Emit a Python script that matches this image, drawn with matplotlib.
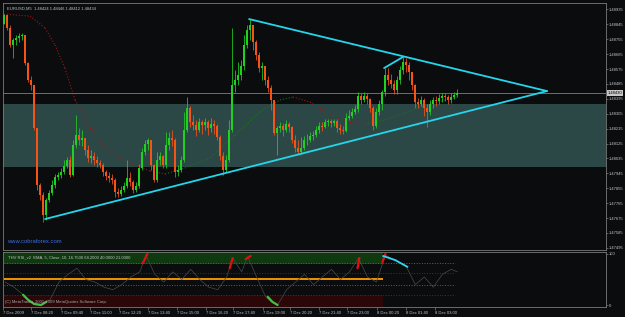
import matplotlib
matplotlib.use("Agg")
import matplotlib.pyplot as plt
from matplotlib.transforms import blended_transform_factory
import numpy as np

plt.rcParams["font.family"] = ["Liberation Sans", "DejaVu Sans"]

# EURUSD M5 candles, open of each candle = previous close
first_open = 1.48847
closes = [1.48901, 1.48823, 1.48720, 1.48750, 1.48762, 1.48775, 1.48781, 1.48611, 1.48509, 1.48479,
          1.48219, 1.47875, 1.47814, 1.47693, 1.47784, 1.47826, 1.47875, 1.47923, 1.47935, 1.47953,
          1.47989, 1.48026, 1.47935, 1.48116, 1.48177, 1.48146, 1.48158, 1.48086, 1.48038, 1.48050,
          1.48026, 1.48007, 1.47995, 1.47953, 1.47929, 1.47917, 1.47905, 1.47832, 1.47820, 1.47844,
          1.47869, 1.47917, 1.47893, 1.47844, 1.47869, 1.47977, 1.48074, 1.48122, 1.48146, 1.47995,
          1.47905, 1.48026, 1.48050, 1.47995, 1.48116, 1.48158, 1.48146, 1.47953, 1.47965, 1.48026,
          1.48207, 1.48340, 1.48255, 1.48237, 1.48207, 1.48255, 1.48237, 1.48255, 1.48219, 1.48243,
          1.48231, 1.48165, 1.48050, 1.47965, 1.48026, 1.48207, 1.48479, 1.48509, 1.48539, 1.48593,
          1.48720, 1.48811, 1.48841, 1.48738, 1.48660, 1.48581, 1.48593, 1.48509, 1.48460, 1.48388,
          1.48189, 1.48219, 1.48231, 1.48207, 1.48243, 1.48225, 1.48146, 1.48098, 1.48074, 1.48098,
          1.48146, 1.48146, 1.48171, 1.48177, 1.48207, 1.48231, 1.48225, 1.48255, 1.48261, 1.48249,
          1.48261, 1.48219, 1.48207, 1.48201, 1.48279, 1.48291, 1.48316, 1.48334, 1.48412, 1.48388,
          1.48412, 1.48394, 1.48340, 1.48231, 1.48316, 1.48364, 1.48436, 1.48539, 1.48509, 1.48485,
          1.48448, 1.48509, 1.48569, 1.48618, 1.48599, 1.48557, 1.48479, 1.48376, 1.48364, 1.48388,
          1.48340, 1.48316, 1.48364, 1.48388, 1.48382, 1.48400, 1.48412, 1.48406, 1.48388, 1.48406,
          1.48418, 1.48430]
highs = [1.48907, 1.48901, 1.48841, 1.48762, 1.48781, 1.48793, 1.48793, 1.48781, 1.48618, 1.48533,
         1.48436, 1.48219, 1.47887, 1.47832, 1.47796, 1.47844, 1.47905, 1.47941, 1.47953, 1.47977,
         1.48026, 1.48044, 1.48050, 1.48146, 1.48297, 1.48219, 1.48207, 1.48158, 1.48116, 1.48086,
         1.48074, 1.48050, 1.48026, 1.48007, 1.47965, 1.47953, 1.47941, 1.47917, 1.47856, 1.47869,
         1.47893, 1.48026, 1.47953, 1.47905, 1.47893, 1.48001, 1.48098, 1.48146, 1.48158, 1.48146,
         1.48001, 1.48074, 1.48074, 1.48056, 1.48195, 1.48195, 1.48207, 1.48158, 1.47995, 1.48050,
         1.48316, 1.48406, 1.48352, 1.48297, 1.48267, 1.48279, 1.48267, 1.48279, 1.48267, 1.48279,
         1.48267, 1.48243, 1.48177, 1.48074, 1.48056, 1.48267, 1.48823, 1.48569, 1.48618, 1.48630,
         1.48781, 1.48841, 1.48877, 1.48841, 1.48750, 1.48678, 1.48618, 1.48581, 1.48533, 1.48479,
         1.48388, 1.48231, 1.48255, 1.48249, 1.48267, 1.48255, 1.48231, 1.48177, 1.48146, 1.48165,
         1.48171, 1.48183, 1.48195, 1.48201, 1.48231, 1.48255, 1.48255, 1.48273, 1.48273, 1.48273,
         1.48273, 1.48273, 1.48243, 1.48231, 1.48309, 1.48328, 1.48340, 1.48358, 1.48436, 1.48430,
         1.48436, 1.48430, 1.48400, 1.48352, 1.48340, 1.48388, 1.48448, 1.48581, 1.48581, 1.48545,
         1.48509, 1.48533, 1.48593, 1.48648, 1.48642, 1.48618, 1.48557, 1.48485, 1.48400, 1.48412,
         1.48400, 1.48364, 1.48388, 1.48406, 1.48412, 1.48424, 1.48430, 1.48430, 1.48418, 1.48430,
         1.48436, 1.48454]
lows = [1.48847, 1.48811, 1.48708, 1.48642, 1.48720, 1.48738, 1.48750, 1.48599, 1.48497, 1.48448,
        1.48207, 1.47844, 1.47784, 1.47651, 1.47663, 1.47772, 1.47814, 1.47856, 1.47905, 1.47917,
        1.47941, 1.47977, 1.47923, 1.47929, 1.48098, 1.48116, 1.48110, 1.48056, 1.48014, 1.48007,
        1.47995, 1.47983, 1.47977, 1.47929, 1.47905, 1.47893, 1.47881, 1.47802, 1.47802, 1.47808,
        1.47832, 1.47856, 1.47869, 1.47826, 1.47832, 1.47856, 1.47965, 1.48056, 1.48086, 1.47965,
        1.47893, 1.47893, 1.47995, 1.47977, 1.47977, 1.48086, 1.48110, 1.47923, 1.47929, 1.47953,
        1.48014, 1.48195, 1.48225, 1.48207, 1.48171, 1.48195, 1.48183, 1.48207, 1.48177, 1.48195,
        1.48183, 1.48146, 1.48026, 1.47935, 1.47953, 1.48014, 1.48195, 1.48436, 1.48479, 1.48509,
        1.48569, 1.48702, 1.48750, 1.48690, 1.48630, 1.48557, 1.48509, 1.48479, 1.48436, 1.48328,
        1.48177, 1.48056, 1.48195, 1.48171, 1.48195, 1.48195, 1.48128, 1.48074, 1.48056, 1.48062,
        1.48086, 1.48116, 1.48134, 1.48146, 1.48165, 1.48189, 1.48201, 1.48219, 1.48231, 1.48225,
        1.48231, 1.48195, 1.48183, 1.48183, 1.48195, 1.48267, 1.48279, 1.48303, 1.48316, 1.48364,
        1.48376, 1.48364, 1.48316, 1.48207, 1.48219, 1.48297, 1.48328, 1.48412, 1.48479, 1.48460,
        1.48424, 1.48424, 1.48485, 1.48545, 1.48557, 1.48509, 1.48448, 1.48340, 1.48340, 1.48352,
        1.48291, 1.48225, 1.48297, 1.48340, 1.48352, 1.48364, 1.48376, 1.48382, 1.48364, 1.48370,
        1.48394, 1.48406]

# slow moving average (candle index, price)
ma_idx = [0, 8.7, 13.7, 17, 20.3, 23.7, 28.7, 33.7, 41, 48.7, 53.7, 60.3, 68.7, 77,
          85.3, 92, 96.3, 102, 108.7, 114.3, 120.3, 127, 133.7, 142, 151]
ma_val = [1.48907, 1.48895, 1.48823, 1.48720, 1.48581, 1.48388, 1.48219, 1.48098, 1.48014,
          1.47959, 1.47941, 1.47977, 1.48038, 1.48177, 1.48316, 1.48388, 1.48406, 1.48376,
          1.48297, 1.48255, 1.48243, 1.48267, 1.48309, 1.48364, 1.48406]

# triangle trend lines
upper_line = ([81.7, 181], [1.48877, 1.48442])
lower_line = ([13.7, 181], [1.47669, 1.48442])
small_line = ([126.7, 133], [1.48581, 1.48648])
zone = (1.47983, 1.48364)

price_ticks = [1.48935 - 0.0009 * k for k in range(17)]
time_pos = [-0.7, 8.7, 18.7, 28.3, 38, 47.7, 57.3, 67, 76, 86, 95.3, 104.7, 114.3, 124.3, 134, 143.7]
time_labels = ["7 Dec 2009", "7 Dec 08:20", "7 Dec 09:40", "7 Dec 11:00", "7 Dec 12:20",
               "7 Dec 13:40", "7 Dec 15:00", "7 Dec 16:20", "7 Dec 17:40", "7 Dec 19:00",
               "7 Dec 20:20", "7 Dec 21:40", "7 Dec 23:00", "8 Dec 00:20", "8 Dec 01:40",
               "8 Dec 03:00"]

# THV RSI indicator
rsi_idx = [0, 3, 6, 9, 12, 15, 18, 21, 24, 27, 30, 33, 36, 39, 42, 45, 47, 50, 53, 56, 59,
           62, 65, 68, 71, 74, 76, 79, 81, 84, 87, 89, 91, 94, 97, 100, 103, 106, 109, 112,
           115, 118, 121, 124, 127, 130, 134, 137, 140, 143, 146, 149, 151]
rsi_val = [45, 35, 20, 4, 1, 10, 45, 60, 72, 50, 45, 35, 30, 40, 55, 65, 98, 60, 45, 65, 50,
           70, 50, 35, 30, 55, 92, 65, 95, 55, 16, 6, 0, 30, 45, 60, 40, 55, 70, 50,
           65, 92, 55, 45, 98, 88, 75, 40, 55, 35, 60, 70, 65]
levels_green = [82, 39]
levels_red = [63, 20]
red_marks = [([46, 47.5], [82, 100]), ([75, 76], [72, 92]), ([80.3, 82], [90, 96]),
             ([117.7, 118.3], [72, 92]), ([126, 127], [84, 100])]
green_marks = [([6, 7.7, 9.7, 12, 13.7], [20, 10, 2, 0, 6]), ([87.7, 89.3, 91], [16, 6, 0])]
cyan_mark = ([126.3, 130.3, 134.3], [96, 88, 75])

BG = "#0a0c0e"
GRID = "#7a7a7a"
TXT = "#c4c4c4"
FS = 3.0

closes = np.array(closes)
highs = np.array(highs)
lows = np.array(lows)
opens = np.r_[first_open, closes[:-1]]
x = np.arange(len(closes))

fig = plt.figure(figsize=(6.25, 3.17), dpi=100, facecolor=BG)
ax = fig.add_axes([3 / 625, 1 - 250 / 317, 603 / 625, 247 / 317], facecolor=BG)
ax2 = fig.add_axes([3 / 625, 1 - 307 / 317, 603 / 625, 55 / 317], facecolor=BG)

xlim = (-0.33, 200.67)
ax.set_xlim(*xlim)
ax.set_ylim(1.47482, 1.48974)

ax.axhspan(zone[0], zone[1], color="#2c4846", zorder=0, lw=0)

up = closes >= opens
col = np.where(up, "#1fd21f", "#f55416")
ax.vlines(x, lows, highs, colors=col, lw=0.55, zorder=2)
body = closes - opens
body = np.where(np.abs(body) < 0.00002, 0.00002, body)
ax.bar(x, body, bottom=opens, width=0.7, color=col, lw=0, zorder=3)

# moving average, red while falling, green while rising
for i in range(len(ma_idx) - 1):
    c = "#a01616" if ma_val[i + 1] < ma_val[i] else "#1f6e1f"
    ax.plot(ma_idx[i:i + 2], ma_val[i:i + 2], ls=":", lw=0.8, color=c, zorder=1)

for xs, ys in (upper_line, lower_line, small_line):
    ax.plot(xs, ys, color="#24d6ec", lw=1.3, zorder=4, solid_capstyle="round")

ax.axhline(closes[-1], color="#6e6e6e", lw=0.7, zorder=1)

for sp in ax.spines.values():
    sp.set_color(GRID)
    sp.set_linewidth(0.6)
ax.set_xticks([])
ax.yaxis.tick_right()
ax.set_yticks(price_ticks)
ax.set_yticklabels([f"{p:.5f}" for p in price_ticks])
ax.tick_params(axis="y", colors=GRID, labelcolor=TXT, labelsize=FS, length=1.5, width=0.5, pad=0.8)

tr = blended_transform_factory(ax.transAxes, ax.transData)
ax.text(1.003, closes[-1], f"{closes[-1]:.5f}", transform=tr, va="center", ha="left",
        fontsize=FS, color="black",
        bbox=dict(facecolor="#c8c8c8", edgecolor="none", pad=0.5))
ax.text(0.006, 0.985, "EURUSD,M5  1.48424 1.48446 1.48412 1.48434", transform=ax.transAxes,
        va="top", ha="left", fontsize=FS, color=TXT)
ax.text(0.006, 0.036, "www.cobraforex.com", transform=ax.transAxes, va="center", ha="left",
        fontsize=4.2, color="#3f6ee0")

# indicator window
ax2.set_xlim(*xlim)
ax2.set_ylim(-3.9, 103.9)
band_end = (126.3 - xlim[0]) / (xlim[1] - xlim[0])
ax2.axhspan(80, 103.9, xmax=band_end, color="#0f3a10", lw=0, zorder=0)
ax2.axhspan(-3.9, 20, xmax=band_end, color="#2c0707", lw=0, zorder=0)
ax2.hlines(levels_green, xlim[0], 150.3, colors="#1f8f1f", linestyles=":", lw=0.7, zorder=1)
ax2.hlines(levels_red, xlim[0], 150.3, colors="#8f1212", linestyles=":", lw=0.7, zorder=1)
ax2.hlines(51, xlim[0], 126.3, colors="#ffa000", lw=1.3, zorder=2)
ax2.plot(rsi_idx, rsi_val, color="#4a4a4a", lw=0.5, zorder=2)
for xs, ys in red_marks:
    ax2.plot(xs, ys, color="#e01010", lw=1.6, zorder=3, solid_capstyle="round")
for xs, ys in green_marks:
    ax2.plot(xs, ys, color="#44c044", lw=1.6, zorder=3, solid_capstyle="round")
ax2.plot(cyan_mark[0], cyan_mark[1], color="#30d8f0", lw=1.3, zorder=3)

for sp in ax2.spines.values():
    sp.set_color(GRID)
    sp.set_linewidth(0.6)
ax2.yaxis.tick_right()
ax2.set_yticks([0, 100])
ax2.set_yticklabels(["0", "100"])
ax2.tick_params(axis="y", colors=GRID, labelcolor=TXT, labelsize=FS, length=1.5, width=0.5, pad=0.8)
ax2.set_xticks(time_pos)
ax2.set_xticklabels(time_labels, ha="left")
ax2.tick_params(axis="x", colors=GRID, labelcolor=TXT, labelsize=FS, length=2, width=0.5, pad=1)

ax2.text(0.008, 0.94, "THV RSI_v2  EMA, 5, Close, 10, 16.7500 68.2000 40.0000 21.0000",
         transform=ax2.transAxes, va="top", ha="left", fontsize=FS, color=TXT)
ax2.text(0.004, 0.06, "(C) MetaTrader, 2001-2009 MetaQuotes Software Corp.",
         transform=ax2.transAxes, va="bottom", ha="left", fontsize=FS, color="#a8a8a8")

fig.savefig("out.png", dpi=100, facecolor=BG)
